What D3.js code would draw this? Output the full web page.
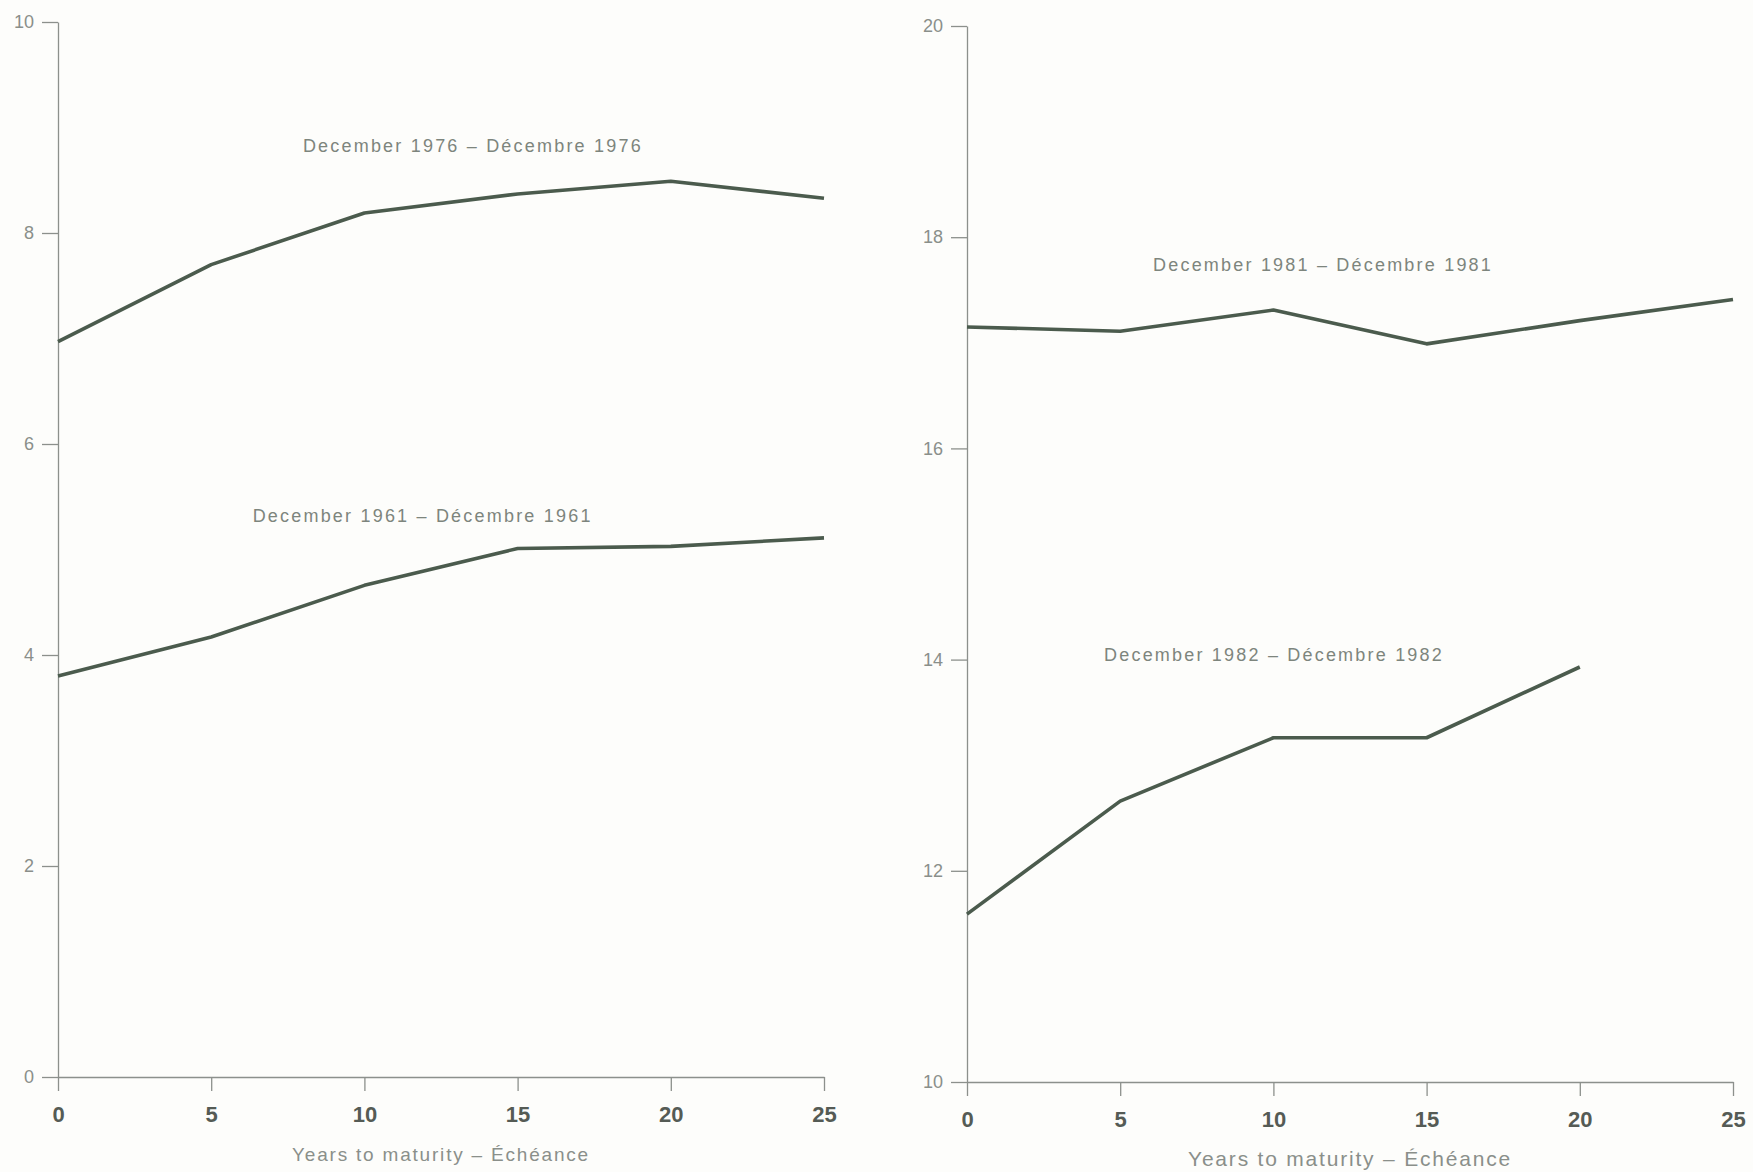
<!DOCTYPE html>
<html>
<head>
<meta charset="utf-8">
<script src="https://cdn.jsdelivr.net/npm/d3@7"></script>
<style>
  body { margin: 0; background: #fdfdfb; }
  svg { display: block; }
</style>
</head>
<body>
<div id="chart"></div>
<script>
// years to maturity
var years = [0, 5, 10, 15, 20, 25];
var yearsShort = [0, 5, 10, 15, 20];

// yields, %
var dec1961 = [3.80, 4.17, 4.66, 5.01, 5.03, 5.11];
var dec1976 = [6.97, 7.70, 8.19, 8.37, 8.49, 8.33];
var dec1981 = [17.15, 17.11, 17.31, 16.99, 17.21, 17.41];
var dec1982 = [11.59, 12.66, 13.26, 13.26, 13.93];

var leftTicks = [0, 2, 4, 6, 8, 10];
var rightTicks = [10, 12, 14, 16, 18, 20];
var xTicks = [0, 5, 10, 15, 20, 25];

var label1961 = "December 1961 \u2013 Décembre 1961";
var label1976 = "December 1976 \u2013 Décembre 1976";
var label1981 = "December 1981 \u2013 Décembre 1981";
var label1982 = "December 1982 \u2013 Décembre 1982";
var xTitle = "Years to maturity \u2013 Échéance";

var svg = d3.select("#chart").append("svg")
    .attr("width", 1753)
    .attr("height", 1172);

function drawPanel(opts) {
    var x = d3.scaleLinear().domain([0, 25]).range([opts.x0, opts.x1]);
    var y = d3.scaleLinear().domain(opts.yDomain).range([opts.y0, opts.y1]);

    var xAxis = svg.append("g")
        .attr("transform", "translate(0," + opts.y0 + ")")
        .call(d3.axisBottom(x).tickValues(xTicks).tickSize(14).tickSizeOuter(0).tickPadding(15));
    xAxis.selectAll("text")
        .style("font-family", "'Liberation Sans Narrow', 'Liberation Sans', Arial, sans-serif")
        .style("font-weight", "bold")
        .style("font-size", "22px")
        .style("fill", "#555b55");

    var yAxis = svg.append("g")
        .attr("transform", "translate(" + opts.x0 + ",0)")
        .call(d3.axisLeft(y).tickValues(opts.yTicks).tickSize(16).tickSizeOuter(0).tickPadding(8));
    yAxis.selectAll("text")
        .style("font-family", "'Liberation Sans', Arial, sans-serif")
        .style("font-size", "18px")
        .style("fill", "#8a8f8a");

    svg.selectAll(".domain, .tick line")
        .attr("stroke", "#8c908c")
        .attr("stroke-width", 1.3);

    var line = d3.line()
        .x(function (d) { return x(d[0]); })
        .y(function (d) { return y(d[1]); });

    opts.series.forEach(function (s) {
        var pts = s.xs.map(function (v, i) { return [v, s.values[i]]; });
        svg.append("path")
            .datum(pts)
            .attr("fill", "none")
            .attr("stroke", "#4b5b4d")
            .attr("stroke-width", 3.6)
            .attr("stroke-linejoin", "round")
            .attr("d", line);
        svg.append("text")
            .attr("x", x(s.labelAt[0]))
            .attr("y", y(s.labelAt[1]))
            .attr("text-anchor", "middle")
            .style("font-family", "'Liberation Sans', Arial, sans-serif")
            .style("font-size", "18px")
            .style("letter-spacing", "2.2px")
            .style("fill", "#7d857d")
            .text(s.label);
    });

    svg.append("text")
        .attr("x", (opts.x0 + opts.x1) / 2)
        .attr("y", opts.titleY)
        .attr("text-anchor", "middle")
        .style("font-family", "'Liberation Sans', Arial, sans-serif")
        .style("font-size", opts.titleSize)
        .style("letter-spacing", opts.titleSpacing)
        .style("fill", "#8a8f8a")
        .text(xTitle);
}

drawPanel({
    x0: 58, x1: 824, y0: 1077, y1: 22,
    yDomain: [0, 10], yTicks: leftTicks,
    titleY: 1161, titleSize: "19px", titleSpacing: "1.8px",
    series: [
        { xs: years, values: dec1976, label: label1976, labelAt: [13.54, 8.77] },
        { xs: years, values: dec1961, label: label1961, labelAt: [11.9, 5.26] }
    ]
});

drawPanel({
    x0: 967, x1: 1733, y0: 1082, y1: 26,
    yDomain: [10, 20], yTicks: rightTicks,
    titleY: 1166, titleSize: "21px", titleSpacing: "1.8px",
    series: [
        { xs: years, values: dec1981, label: label1981, labelAt: [11.62, 17.68] },
        { xs: yearsShort, values: dec1982, label: label1982, labelAt: [10.02, 13.99] }
    ]
});
</script>
</body>
</html>
